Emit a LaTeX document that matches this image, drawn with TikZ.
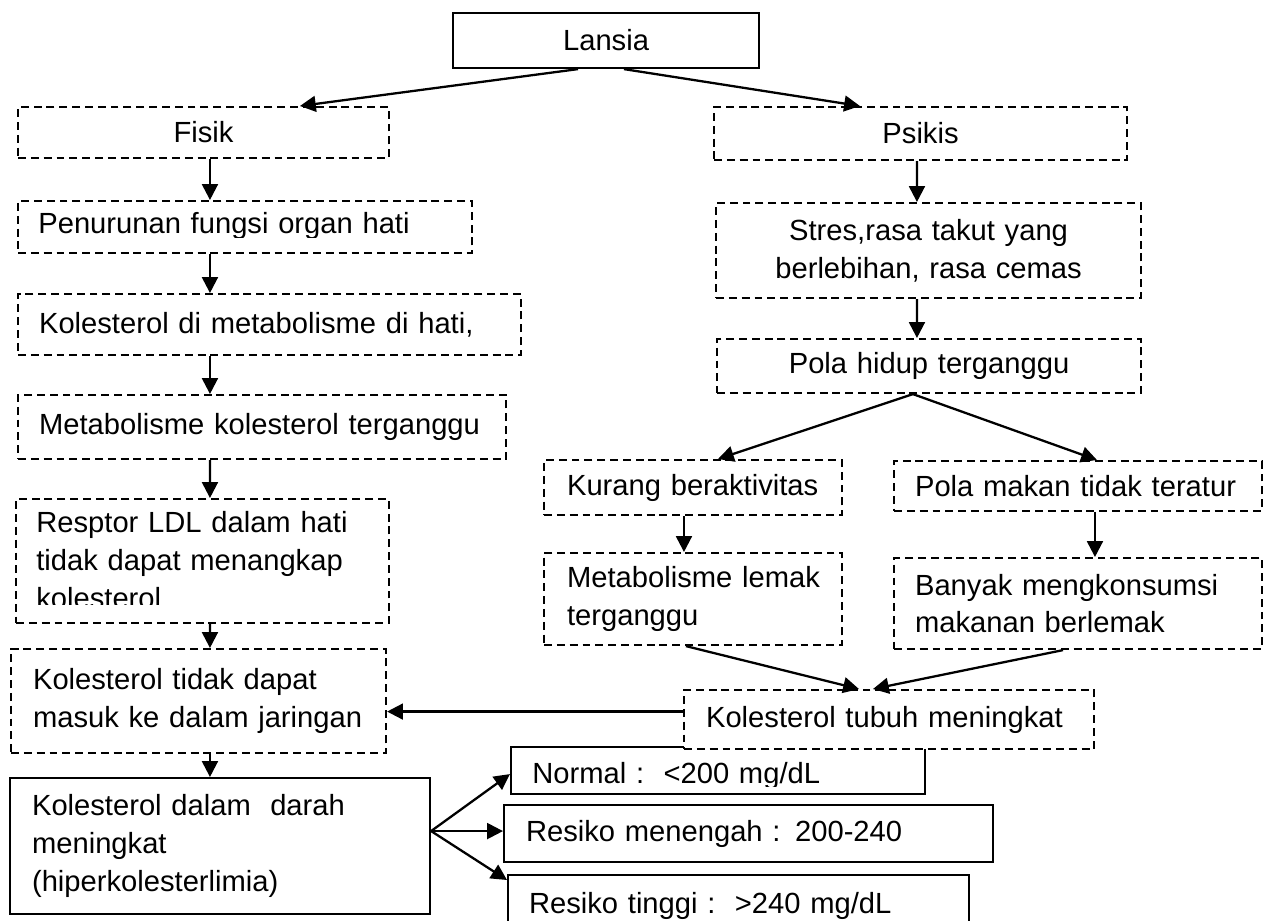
\documentclass[tikz,border=0pt]{standalone}
\usepackage{fontspec}
\setmainfont{Liberation Sans}
\usetikzlibrary{arrows.meta}
\tikzset{
  geom/.code args={#1/#2/#3/#4/#5}{%
    \pgfmathsetmacro\bxw{(#3-#1)*0.02}%
    \pgfmathsetmacro\bxh{(#4-#2)*0.02}%
    \pgfmathsetmacro\bxp{#5*0.02}%
    \pgfmathsetmacro\bxt{(#3-#1-2*#5)*0.02}%
    \edef\bxtmp{\noexpand\tikzset{anchor=north west, at={(#1,#2)}, minimum width=\bxw cm, minimum height=\bxh cm, inner xsep=\bxp cm, text width=\bxt cm}}%
    \bxtmp},
  box/.style={draw, line width=1.2pt, rectangle, inner ysep=0pt, fill=white, font=\fontsize{16.6}{21.6}\selectfont},
  dbox/.style={box, dash pattern=on 4.5pt off 2.8pt},
  txt/.style={rectangle, inner ysep=0pt, font=\fontsize{16.6}{21.6}\selectfont},
  lt/.style={align=left},
  ct/.style={align=center},
  arr/.style={line width=1.3pt, -{Triangle[length=9pt,width=9pt]}}
}
\begin{document}
\begin{tikzpicture}[x=0.02cm, y=-0.02cm]
\useasboundingbox (0,0) rectangle (1264,920);
\clip (0,0) rectangle (1264,920);

% left column
\node[box, ct, geom=452/12/758/67/10] (lansia) {Lansia};
\node[dbox, ct, geom=17/106/388/157/10] (fisik) {Fisik};
\node[dbox, ct, geom=713/106/1126/159/10] (psikis) {Psikis};
\node[dbox, geom=17/200/471/252/21] (penurunan) {};
\begin{scope}
\clip (0,190) rectangle (1264,237);
\node[txt, lt, geom=17/200/471/252/21] (penurunanT) {\mbox{Penurunan fungsi organ hati}};
\end{scope}
\node[dbox, lt, geom=17/293/520/354/21] (kolmet) {\mbox{Kolesterol di metabolisme di hati,}};
\node[dbox, lt, geom=17/394/505/458/21] (metkol) {\mbox{Metabolisme kolesterol terganggu}};
\node[dbox, geom=15/498/388/622/21] (resptor) {};
\begin{scope}
\clip (0,490) rectangle (1264,604);
\node[txt, lt, geom=15/498/388/622/21] (resptorT) {\mbox{Resptor LDL dalam hati}\\\mbox{tidak dapat menangkap}\\\mbox{kolesterol}};
\end{scope}
\node[dbox, lt, geom=10/648/385/752/22] (koltidak) {\mbox{Kolesterol tidak dapat}\\\mbox{masuk ke dalam jaringan}};
\node[box, lt, geom=9/777/429/913/22] (koldarah) {\mbox{Kolesterol dalam\ \ darah}\\\mbox{meningkat}\\\mbox{(hiperkolesterlimia)}};

% right column
\node[dbox, ct, geom=715/202/1140/297/10] (stres) {Stres,rasa takut yang\\berlebihan, rasa cemas};
\node[dbox, ct, geom=716/338/1140/392/10] (polahidup) {Pola hidup terganggu};
\node[dbox, lt, geom=543/459/841/514/23] (kurang) {\mbox{Kurang beraktivitas}};
\node[dbox, lt, geom=893/460/1261/510/21] (polamakan) {\mbox{Pola makan tidak teratur}};
\node[dbox, lt, geom=543/552/841/644/23] (metlemak) {\mbox{Metabolisme lemak}\\\mbox{terganggu}};
\node[dbox, lt, geom=893/557/1261/648/21] (banyak) {\mbox{Banyak mengkonsumsi}\\\mbox{makanan berlemak}};

% result boxes
\node[box, lt, geom=510/746/924/793/22] (normal) {};
\begin{scope}
\clip (0,740) rectangle (1264,786);
\node[txt, lt, geom=510/746/924/793/22, yshift=-0.12cm] (normalT) {\mbox{Normal :\ \ <200 mg/dL}};
\end{scope}
\node[dbox, lt, geom=683/689/1093/748/22] (koltubuh) {\mbox{Kolesterol tubuh meningkat}};
\node[box, lt, geom=503/804/992/861/22] (menengah) {\mbox{Resiko menengah : 200-240}};
\node[box, lt, geom=507/874/968/935/21] (tinggi) {\mbox{Resiko tinggi :\ \ >240 mg/dL}};

% connectors
\draw[arr] ([xshift=2.52cm]lansia.south west) -- ([xshift=5.66cm]fisik.north west);
\draw[arr] ([xshift=3.44cm]lansia.south west) -- ([xshift=2.94cm]psikis.north west);

\draw[arr] ([xshift=3.86cm]fisik.south west) -- ([xshift=3.86cm]penurunan.north west);
\draw[arr] ([xshift=3.86cm]penurunan.south west) -- ([xshift=3.86cm]kolmet.north west);
\draw[arr] ([xshift=3.86cm]kolmet.south west) -- ([xshift=3.86cm]metkol.north west);
\draw[arr] ([xshift=3.86cm]metkol.south west) -- ([xshift=3.9cm]resptor.north west);
\draw[arr] ([xshift=3.9cm]resptor.south west) -- ([xshift=4.0cm]koltidak.north west);
\draw[arr] ([xshift=4.0cm]koltidak.south west) -- ([xshift=4.02cm]koldarah.north west);

\draw[arr] ([xshift=4.08cm]psikis.south west) -- ([xshift=4.04cm]stres.north west);
\draw[arr] ([xshift=4.04cm]stres.south west) -- ([xshift=4.02cm]polahidup.north west);
\draw[arr] ([xshift=3.94cm]polahidup.south west) -- ([xshift=3.5cm]kurang.north west);
\draw[arr] ([xshift=3.94cm]polahidup.south west) -- ([xshift=4.08cm]polamakan.north west);
\draw[arr] ([xshift=2.82cm]kurang.south west) -- ([xshift=2.82cm]metlemak.north west);
\draw[arr] ([xshift=4.04cm]polamakan.south west) -- ([xshift=4.04cm]banyak.north west);
\draw[arr] ([xshift=2.86cm]metlemak.south west) -- ([xshift=3.52cm]koltubuh.north west);
\draw[arr] ([xshift=3.4cm]banyak.south west) -- ([xshift=3.8cm]koltubuh.north west);
\draw[arr] ([yshift=0.16cm]koltubuh.west) -- ([yshift=0.16cm]koltubuh.west -| koltidak.east);

\draw[arr] ([yshift=0.3cm]koldarah.east) -- ([yshift=-0.07cm]normal.west);
\draw[arr] ([yshift=0.3cm]koldarah.east) -- ([yshift=0.3cm]koldarah.east -| menengah.west);
\draw[arr] ([yshift=0.3cm]koldarah.east) -- ([yshift=-0.12cm]tinggi.north west);
\end{tikzpicture}
\end{document}
